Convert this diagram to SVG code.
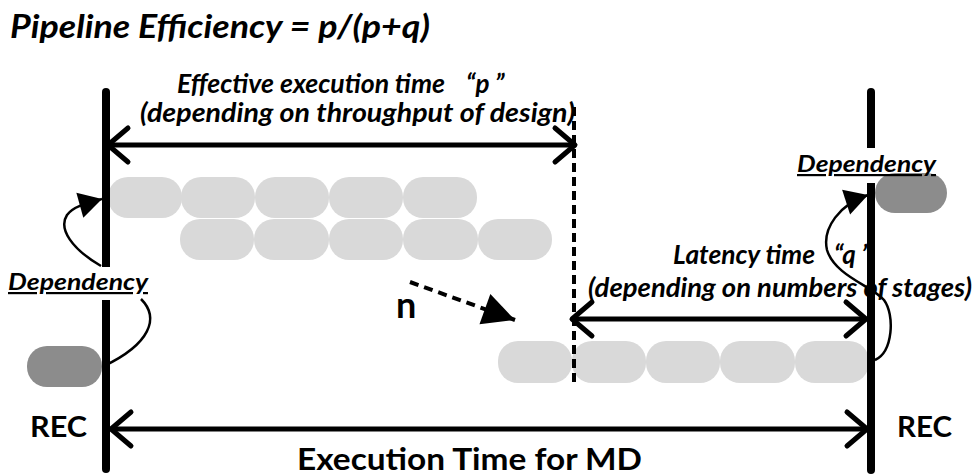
<svg xmlns="http://www.w3.org/2000/svg" width="978" height="475" viewBox="0 0 978 475">
<style>
.t{font-family:Lato,"Liberation Sans",sans-serif;font-weight:bold;fill:#000}
.i{font-style:italic}
.lp{fill:#d9d9d9}
.dp{fill:#8c8c8c}
.bar{stroke:#000;stroke-width:8;stroke-linecap:round;fill:none}
.arr{stroke:#000;stroke-width:5;fill:none}
.dep{stroke:#000;stroke-width:2.5;fill:none}
.bg{fill:#fff}
</style>
<defs>
<marker id="chev" markerUnits="userSpaceOnUse" markerWidth="60" markerHeight="60" refX="0" refY="0" orient="auto-start-reverse" overflow="visible">
<path d="M-20,-17 L0,0 L-20,17" fill="none" stroke="#000" stroke-width="5" stroke-linecap="round" stroke-linejoin="round"/>
</marker>
<marker id="tri" markerUnits="userSpaceOnUse" markerWidth="60" markerHeight="60" refX="0" refY="0" orient="auto" overflow="visible">
<path d="M0,0 L-23,-13 L-23,13 Z" fill="#000"/>
</marker>
<marker id="tri2" markerUnits="userSpaceOnUse" markerWidth="60" markerHeight="60" refX="0" refY="0" orient="auto" overflow="visible">
<path d="M0,0 L-32,-16 L-32,16 Z" fill="#000"/>
</marker>
</defs>

<text id="title" class="t i" x="10" y="38" font-size="32" textLength="420" lengthAdjust="spacingAndGlyphs">Pipeline Efficiency = p/(p+q)</text>

<g id="stages-row1">
<rect class="lp" x="108" y="177" width="74" height="41" rx="20"/>
<rect class="lp" x="181" y="177" width="74" height="41" rx="20"/>
<rect class="lp" x="255" y="177" width="74" height="41" rx="20"/>
<rect class="lp" x="329" y="177" width="74" height="41" rx="20"/>
<rect class="lp" x="403" y="177" width="74" height="41" rx="20"/>
</g>
<g id="stages-row2">
<rect class="lp" x="180" y="219" width="74" height="41" rx="20"/>
<rect class="lp" x="254" y="219" width="75" height="41" rx="20"/>
<rect class="lp" x="329" y="219" width="74" height="41" rx="20"/>
<rect class="lp" x="403" y="219" width="75" height="41" rx="20"/>
<rect class="lp" x="478" y="219" width="74" height="41" rx="20"/>
</g>
<g id="stages-rown">
<rect class="lp" x="498" y="341" width="74" height="42" rx="20"/>
<rect class="lp" x="572" y="341" width="74" height="42" rx="20"/>
<rect class="lp" x="646" y="341" width="74" height="42" rx="20"/>
<rect class="lp" x="720" y="341" width="75" height="42" rx="20"/>
<rect class="lp" x="795" y="341" width="74" height="42" rx="20"/>
</g>
<g id="dep-pill-left"><rect class="dp" x="27" y="346" width="75" height="41" rx="20"/></g>

<g id="label-p">
<text class="t i" x="177" y="93" font-size="26" textLength="268" lengthAdjust="spacingAndGlyphs">Effective execution time</text>
<text class="t i" x="466" y="93" font-size="26">“p ”</text>
<text class="t i" x="140" y="122" font-size="26" textLength="435" lengthAdjust="spacingAndGlyphs">(depending on throughput of design)</text>
</g>
<g id="label-q">
<text class="t i" x="673" y="264" font-size="26" textLength="142" lengthAdjust="spacingAndGlyphs">Latency time</text>
<text class="t i" x="834" y="264" font-size="26">“q ”</text>
<text class="t i" x="588" y="297" font-size="26" textLength="384" lengthAdjust="spacingAndGlyphs">(depending on numbers of stages)</text>
</g>

<g id="rec-left">
<line class="bar" x1="106" y1="92" x2="106" y2="469"/>
<text class="t" x="30" y="437" font-size="29" textLength="57" lengthAdjust="spacingAndGlyphs">REC</text>
</g>
<g id="rec-right">
<line class="bar" x1="871" y1="92" x2="871" y2="470"/>
<text class="t" x="897" y="437" font-size="29" textLength="55" lengthAdjust="spacingAndGlyphs">REC</text>
</g>

<g id="dep-label-left">
<rect class="bg" x="6" y="267" width="146" height="33"/>
<text class="t i" x="8" y="290" font-size="22" textLength="140" lengthAdjust="spacingAndGlyphs" text-decoration="underline">Dependency</text>
</g>
<g id="dep-label-right">
<rect class="bg" x="795" y="148" width="144" height="35"/>
<rect class="dp" x="875" y="173" width="72" height="40" rx="20"/>
<text class="t i" x="797" y="172" font-size="22" textLength="139" lengthAdjust="spacingAndGlyphs" text-decoration="underline">Dependency</text>
</g>

<text id="n-label" class="t" x="396" y="318" font-size="36">n</text>
<text id="exec-label" class="t" x="297" y="470" font-size="30" textLength="345" lengthAdjust="spacingAndGlyphs">Execution Time for MD</text>

<g id="connectors">
<line class="arr" x1="108" y1="145" x2="575" y2="145" marker-start="url(#chev)" marker-end="url(#chev)"/>
<line class="arr" x1="572" y1="319" x2="866" y2="319" marker-start="url(#chev)" marker-end="url(#chev)"/>
<line class="arr" x1="111" y1="429" x2="867" y2="429" marker-start="url(#chev)" marker-end="url(#chev)"/>
<line x1="574" y1="107" x2="574" y2="385" stroke="#000" stroke-width="4" stroke-dasharray="9 5"/>
<path d="M410,282 L515,320" stroke="#000" stroke-width="4" stroke-dasharray="9 6" fill="none" marker-end="url(#tri2)"/>
<path class="dep" d="M101,266 C72,249 58,229 67,215 C73,207 84,204 102,199" marker-end="url(#tri)"/>
<path class="dep" d="M141,299 C160,318 150,344 104,366"/>
<path class="dep" d="M875,360 C893,352 895,315 884,300 C872,286 835,276 827,250 C822,228 840,204 868,195" marker-end="url(#tri)"/>
</g>
</svg>
